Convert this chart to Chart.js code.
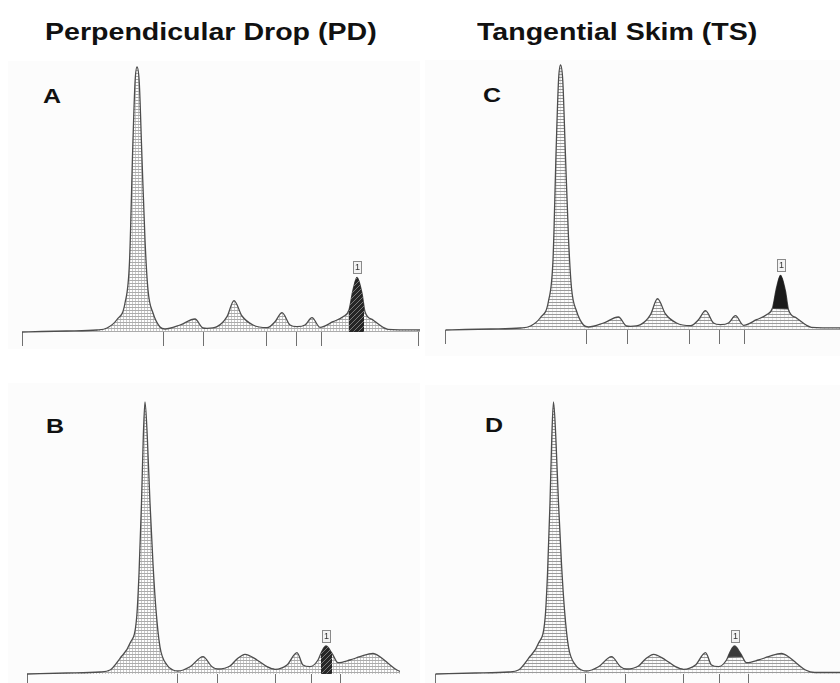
<!DOCTYPE html>
<html>
<head>
<meta charset="utf-8">
<script src="https://cdn.jsdelivr.net/npm/chart.js@4.4.1/dist/chart.umd.min.js"></script>
<style>
html, body { margin:0; padding:0; background:#fff; }
body { width:840px; height:683px; overflow:hidden; position:relative; font-family:"Liberation Sans", Arial, sans-serif; }
.panel { position:absolute; background:#fcfcfc; }
.titulo, .letra { position:absolute; font-weight:bold; color:#111; white-space:nowrap; transform-origin:0 0; transform:scaleX(1.19); }
.titulo { font-size:24px; line-height:24px; top:20px; }
.letra { font-size:21px; line-height:21px; }
canvas { position:absolute; }
</style>
</head>
<body>
<div class="panel" style="left:8px;top:61px;width:412px;height:288px"></div>
<div class="panel" style="left:425px;top:60px;width:415px;height:296px"></div>
<div class="panel" style="left:8px;top:383px;width:412px;height:300px"></div>
<div class="panel" style="left:425px;top:385px;width:415px;height:298px"></div>

<div class="titulo" style="left:45px">Perpendicular Drop (PD)</div>
<div class="titulo" style="left:477px">Tangential Skim (TS)</div>
<div class="letra" style="left:43px;top:85px">A</div>
<div class="letra" style="left:483px;top:84px">C</div>
<div class="letra" style="left:46px;top:415px">B</div>
<div class="letra" style="left:485px;top:414px">D</div>

<canvas id="chA" width="420" height="291" style="left:0;top:55px"></canvas>
<canvas id="chC" width="420" height="291" style="left:420px;top:53px"></canvas>
<canvas id="chB" width="400" height="298" style="left:0;top:390px"></canvas>
<canvas id="chD" width="420" height="298" style="left:420px;top:390px"></canvas>

<script>
// ================================================================
// Cromatogramas PD / TS — tiempo (min) vs señal (mV)
// ================================================================

// ── Corrida 1 (paneles A y C) ───────────────────────────────────
var run1Time   = [0, 2.0, 4.5, 7.5, 8.5, 9.5, 10.3, 10.75, 11.07, 11.3, 11.5, 11.73, 11.97, 12.3, 12.6, 13.1, 13.8, 14.3,
                  15.8, 17.3, 18.1, 18.5, 19.5, 20.5, 21.2, 22.0, 23.1, 24.5, 25.3, 26.0, 26.8, 27.5, 28.3, 29.0, 29.8,
                  31.1, 32.1, 32.7, 33.1, 33.5, 34.0, 34.3, 35.1, 36.1, 36.6, 39.8];
var run1Signal = [0, 0.5, 1, 2, 4, 12.5, 29, 70, 182, 249, 265, 249, 182, 92, 42, 19, 5, 3,
                  7, 13, 4, 3.7, 5.3, 15.3, 31.3, 16, 7, 4.3, 10.3, 19.3, 7, 5.3, 7, 14.3, 4.7,
                  10.3, 15.3, 22, 42, 54.7, 38.7, 20.3, 12, 4.7, 2.7, 2];
var run1Cuts       = [0, 14.1, 18.2, 24.4, 27.4, 29.9, 39.6];
var run1Drop       = [32.7, 34.2];
var run1SkimTime   = [32.75, 34.25];
var run1SkimSignal = [21.5, 21.0];
var run1Tag        = [33.5, 54.7];

// ── Corrida 2 (paneles B y D) ───────────────────────────────────
var run2Time   = [0, 4, 7.3, 8.3, 9.3, 10.3, 10.97, 11.2, 11.45, 11.63, 11.8, 12.03, 12.3, 12.6, 12.9, 13.3, 14.0, 14.6, 15.1,
                  16.3, 17.6, 18.5, 19.1, 20.3, 21.0, 21.8, 23.0, 24.0, 24.8, 26.0, 27.0, 27.6, 28.3,
                  29.1, 29.5, 29.9, 30.5, 31.1, 32.3, 33.3, 34.6, 35.3, 36.1, 37.0, 37.9, 40.5];
var run2Signal = [0, 1, 2, 4, 15.7, 30.7, 57, 100, 171, 237, 272, 237, 171, 110, 64, 27, 9, 4, 3,
                  7.3, 17.3, 7.3, 5, 8, 15, 19.7, 14, 7.3, 4.7, 9, 21.3, 9, 7.3,
                  14, 23, 28, 20.7, 11.3, 14, 17.3, 20.7, 17.3, 10.7, 4, 1.5, 1.5];
var run2Cuts       = [0, 15.0, 19.0, 24.8, 28.4, 31.3];
var run2Drop       = [29.4, 30.5];
var run2SkimTime   = [29.25, 30.65];
var run2SkimSignal = [17, 17.5];
var run2Tag        = [29.9, 28];

// ── Patrones de relleno ─────────────────────────────────────────
function _patron(w, h, dibujar) {
    var c = document.createElement('canvas'); c.width = w; c.height = h;
    var g = c.getContext('2d'); dibujar(g, w, h);
    return g.createPattern(c, 'repeat');
}
var patPD = _patron(3, 3, function(g) {
    g.fillStyle = 'rgba(255,255,255,0.5)'; g.fillRect(0, 0, 3, 3);
    g.fillStyle = 'rgba(70,70,70,0.45)';  g.fillRect(0, 0, 3, 1);
    g.fillStyle = 'rgba(70,70,70,0.28)';  g.fillRect(0, 1, 1, 2);
});
var patTS = _patron(4, 3, function(g) {
    g.fillStyle = 'rgba(55,55,55,0.5)';   g.fillRect(0, 0, 4, 1);
    g.fillStyle = 'rgba(90,90,90,0.15)';  g.fillRect(0, 1, 1, 2);
});
var patOscuro = _patron(5, 5, function(g) {
    g.fillStyle = '#262626'; g.fillRect(0, 0, 5, 5);
    g.strokeStyle = '#7a7a7a'; g.lineWidth = 1;
    g.beginPath(); g.moveTo(-1, 6); g.lineTo(6, -1); g.stroke();
});

// ── Etiqueta de pico "1" ────────────────────────────────────────
var pluginEtiqueta = {
    id: 'etiqueta',
    afterDatasetsDraw: function(chart, args, opts) {
        if (!opts || opts.t == null) return;
        var ctx = chart.ctx;
        var px = Math.round(chart.scales.x.getPixelForValue(opts.t));
        var py = Math.round(chart.scales.y.getPixelForValue(opts.s));
        var w = 8, h = 12, gap = 4;
        ctx.save();
        ctx.fillStyle = '#f3f3f3'; ctx.strokeStyle = '#8a8a8a'; ctx.lineWidth = 1;
        ctx.fillRect(px - w/2 + 0.5, py - gap - h + 0.5, w, h);
        ctx.strokeRect(px - w/2 + 0.5, py - gap - h + 0.5, w, h);
        ctx.fillStyle = '#333'; ctx.font = '9px "Liberation Sans", Arial, sans-serif';
        ctx.textAlign = 'center'; ctx.textBaseline = 'middle';
        ctx.fillText(opts.texto, px + 0.5, py - gap - h/2 + 1);
        ctx.restore();
    }
};

function _xy(ts, ss) { return ts.map(function(t, i) { return {x: t, y: ss[i]}; }); }

var corridas = {
    1: { time: run1Time, signal: run1Signal, cuts: run1Cuts, drop: run1Drop, skimT: run1SkimTime, skimS: run1SkimSignal, tag: run1Tag },
    2: { time: run2Time, signal: run2Signal, cuts: run2Cuts, drop: run2Drop, skimT: run2SkimTime, skimS: run2SkimSignal, tag: run2Tag }
};

var paneles = [
    { id: 'chA', run: 1, metodo: 'PD', xMin: -2.2,  xMax: 39.8,  yMax: 277, oscuro: patOscuro },
    { id: 'chC', run: 1, metodo: 'TS', xMin: -2.55, xMax: 39.45, yMax: 277, oscuro: '#1b1b1b' },
    { id: 'chB', run: 2, metodo: 'PD', xMin: -2.7,  xMax: 37.3,  yMax: 284, oscuro: patOscuro },
    { id: 'chD', run: 2, metodo: 'TS', xMin: -1.55, xMax: 40.45, yMax: 284, oscuro: '#3a3a3a' }
];

paneles.forEach(function(p) {
    var r = corridas[p.run];
    var esPD = p.metodo === 'PD';

    // dataset 0: zona oscura (caída perpendicular o línea tangente) rellena hasta la traza
    var zona = esPD
        ? { data: _xy(r.drop, [0, 0]), borderWidth: 1, borderColor: '#2a2a2a' }
        : { data: _xy(r.skimT, r.skimS), borderWidth: 1, borderColor: '#444' };
    zona.fill = 1;
    zona.backgroundColor = p.oscuro;
    zona.pointRadius = 0;
    zona.tension = 0;

    var traza = {
        data: _xy(r.time, r.signal),
        fill: 'origin',
        backgroundColor: esPD ? patPD : patTS,
        borderColor: '#4d4d4d',
        borderWidth: 1.3,
        pointRadius: 0,
        cubicInterpolationMode: 'monotone',
        clip: false
    };

    new Chart(document.getElementById(p.id), {
        type: 'line',
        data: { datasets: [zona, traza] },
        plugins: [pluginEtiqueta],
        options: {
            responsive: false,
            animation: false,
            layout: { padding: 0 },
            plugins: {
                legend: { display: false },
                tooltip: { enabled: false },
                etiqueta: { t: r.tag[0], s: r.tag[1], texto: '1' }
            },
            scales: {
                x: {
                    type: 'linear', min: p.xMin, max: p.xMax,
                    afterBuildTicks: function(s) {
                        s.ticks = r.cuts.filter(function(v) { return v >= p.xMin && v <= p.xMax; })
                                        .map(function(v) { return {value: v}; });
                    },
                    grid: { drawOnChartArea: false, drawTicks: true, tickLength: 14, color: '#707070', lineWidth: 1 },
                    border: { display: false },
                    ticks: { display: false }
                },
                y: { type: 'linear', min: 0, max: p.yMax, display: false }
            }
        }
    });
});
</script>
</body>
</html>
